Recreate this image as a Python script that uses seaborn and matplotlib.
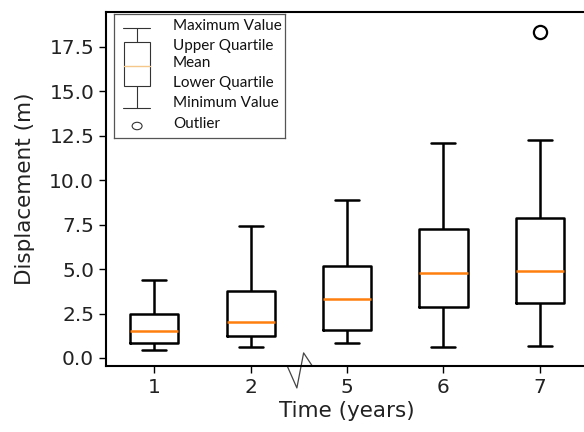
import numpy as np
import pandas as pd
import matplotlib
matplotlib.use("Agg")
import matplotlib.pyplot as plt
import matplotlib.transforms as mtransforms
from matplotlib.patches import Ellipse, Rectangle
import seaborn as sns

# ---- data ----
time_labels = ["1", "2", "5", "6", "7"]
minimum = [0.47, 0.64, 0.87, 0.59, 0.70]
lower_q = [0.85, 1.26, 1.56, 2.84, 3.10]
median = [1.50, 2.05, 3.29, 4.77, 4.88]
upper_q = [2.50, 3.79, 5.18, 7.25, 7.87]
maximum = [4.41, 7.42, 8.87, 12.09, 12.24]
outliers = [[], [], [], [], [18.3]]

legend_items = ["Maximum Value", "Upper Quartile", "Mean",
                "Lower Quartile", "Minimum Value", "Outlier"]

# values that reproduce the five-number summaries exactly
rows = []
for t, mn, q1, md, q3, mx, out in zip(time_labels, minimum, lower_q, median,
                                      upper_q, maximum, outliers):
    vals = [mn, q1, q1, md, md, q3, q3, mx] + list(out)
    for v in vals:
        rows.append({"Time": t, "Displacement": v})
df = pd.DataFrame(rows)

sns.set_theme(style="ticks")
plt.rcParams["font.family"] = ["DejaVu Sans"]

fig = plt.figure(figsize=(5.84, 4.32), dpi=100)
ax = fig.add_axes([106 / 584, 66 / 432, 482 / 584, 354 / 432])

sns.boxplot(data=df, x="Time", y="Displacement", order=time_labels,
            width=0.5, fill=False, color="black", linewidth=1.8,
            whis=1.5,
            medianprops=dict(color="#ff7f0e", linewidth=1.8),
            flierprops=dict(marker="o", markersize=9.5, markeredgecolor="black",
                            markerfacecolor="none", markeredgewidth=1.6),
            ax=ax)

ax.set_xlim(-0.5, 4.5)
ax.set_ylim(-0.45, 19.45)
yt = np.arange(0, 17.6, 2.5)
ax.set_yticks(yt)
ax.set_yticklabels([f"{v:.1f}" for v in yt])
ax.set_xlabel("Time (years)", fontsize=15.5, color="#222222", labelpad=3)
ax.set_ylabel("Displacement (m)", fontsize=15.5, color="#222222", labelpad=10)
ax.tick_params(axis="both", labelsize=14.5, length=5, width=1, color="black",
               labelcolor="#222222")
for s in ax.spines.values():
    s.set_visible(True)
    s.set_linewidth(1.5)
    s.set_color("black")

# axis-break zigzag below x axis between 2 and 5
trans = mtransforms.blended_transform_factory(ax.transData, ax.transAxes)
ax.plot([1.38, 1.48, 1.55, 1.64], [0.0, -0.062, 0.037, 0.0],
        color="#444444", lw=0.9, transform=trans, clip_on=False)

# custom legend box
lg = ax.inset_axes([0.0166, 0.644, 0.355, 0.350])
lg.set_xlim(0, 1)
lg.set_ylim(0, 1)
lg.set_xticks([])
lg.set_yticks([])
for s in lg.spines.values():
    s.set_color("#555555")
    s.set_linewidth(0.9)
gc = "#333333"
lg.plot([0.053, 0.21], [0.887, 0.887], color=gc, lw=0.8)
lg.plot([0.135, 0.135], [0.887, 0.774], color=gc, lw=0.8)
lg.add_patch(Rectangle((0.058, 0.419), 0.152, 0.355, fill=False,
                       edgecolor=gc, lw=0.8))
lg.plot([0.058, 0.21], [0.58, 0.58], color="#f5c78a", lw=1.0)
lg.plot([0.135, 0.135], [0.419, 0.242], color=gc, lw=0.8)
lg.plot([0.053, 0.21], [0.242, 0.242], color=gc, lw=0.8)
lg.add_patch(Ellipse((0.135, 0.097), 0.058, 0.06, fill=False,
                     edgecolor=gc, lw=0.8))
ys = [0.903, 0.742, 0.605, 0.444, 0.282, 0.113]
for txt, y in zip(legend_items, ys):
    lg.text(0.345, y, txt, fontsize=11, va="center", ha="left",
            family=["Lato", "DejaVu Sans"], color="#111111")

fig.savefig("out.png", dpi=100)
